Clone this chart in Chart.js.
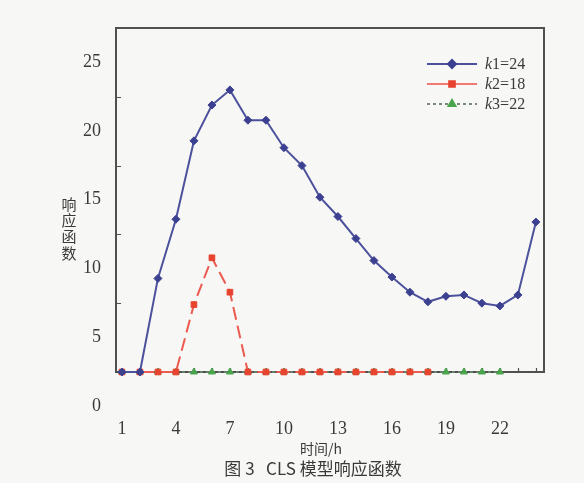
<!DOCTYPE html>
<html>
<head>
<meta charset="utf-8">
<script src="https://cdn.jsdelivr.net/npm/chart.js@4.4.1/dist/chart.umd.min.js"></script>
<style>
  html, body { margin: 0; padding: 0; background: #f7f7f5; }
  #wrap { width: 584px; height: 483px; }
</style>
</head>
<body>
<div id="wrap"><canvas id="chart" width="584" height="483"></canvas></div>
<script>
// hours on the x axis
const hours = [1, 2, 3, 4, 5, 6, 7, 8, 9, 10, 11, 12, 13, 14, 15, 16, 17, 18, 19, 20, 21, 22, 23, 24];
const xTickLabels = [1, 4, 7, 10, 13, 16, 19, 22];
const yTickLabels = [0, 5, 10, 15, 20, 25];

// response values
const k1Values = [0, 0, 6.8, 11.1, 16.8, 19.4, 20.5, 18.3, 18.3, 16.3, 15.0, 12.7, 11.3, 9.7, 8.1, 6.9, 5.8, 5.1, 5.5, 5.6, 5.0, 4.8, 5.6, 10.9];
const k2Values = [0, 0, 0, 0, 4.9, 8.3, 5.8, 0, 0, 0, 0, 0, 0, 0, 0, 0, 0, 0];
const k3Values = [0, 0, 0, 0, 0, 0, 0, 0, 0, 0, 0, 0, 0, 0, 0, 0, 0, 0, 0, 0, 0, 0];

const seriesNames = ['k1=24', 'k2=18', 'k3=22'];
const xTitle = '时间/h';
const yTitle = '响应函数';
const caption = '图 3   CLS 模型响应函数';

const SERIF = '"Liberation Serif", "DejaVu Serif", serif';
const CJK = '"Noto Sans CJK SC", sans-serif';
const TEXT = '#3a3a3a';

const styles = [
    { color: '#4c519c', point: '#3c4090', pointStyle: 'rectRot', radius: 4, dash: [], legendColor: '#4c519c', legendDash: [] },
    { color: '#ec5a50', point: '#e8432f', pointStyle: 'rect', radius: 4, dash: [13, 6], legendColor: '#f07a74', legendDash: [] },
    { color: '#66806a', point: '#4aa54c', pointStyle: 'triangle', radius: 4, dash: [3, 3], legendColor: '#7a8a7a', legendDash: [3, 3] }
];

function toPoints(values) {
    return values.map((v, i) => ({ x: hours[i], y: v }));
}

// box, inner ticks, axis titles, caption and legend
const decorPlugin = {
    id: 'decor',
    beforeDatasetsDraw(chart) {
        const { ctx, chartArea: a, scales } = chart;
        ctx.save();
        ctx.strokeStyle = '#505050';
        ctx.lineWidth = 2;
        ctx.strokeRect(a.left, a.top, a.right - a.left, a.bottom - a.top);
        ctx.lineWidth = 1.2;
        ctx.beginPath();
        [5, 10, 15, 20].forEach(v => {
            const y = Math.round(scales.y.getPixelForValue(v)) + 0.5;
            ctx.moveTo(a.left, y);
            ctx.lineTo(a.left + 5, y);
        });
        hours.forEach(h => {
            const x = Math.round(scales.x.getPixelForValue(h)) + 0.5;
            ctx.moveTo(x, a.bottom);
            ctx.lineTo(x, a.bottom - 4);
        });
        ctx.stroke();
        ctx.restore();
    },
    afterDraw(chart) {
        const { ctx } = chart;
        ctx.save();
        ctx.fillStyle = TEXT;
        ctx.textAlign = 'center';
        ctx.textBaseline = 'middle';

        // y title, one character per line
        ctx.font = '15px ' + CJK;
        Array.from(yTitle).forEach((ch, i) => {
            ctx.fillText(ch, 69, 204 + i * 16.3);
        });

        ctx.font = '14px ' + CJK;
        ctx.fillText(xTitle, 321, 449);

        ctx.font = '17px ' + CJK;
        ctx.fillText(caption, 313, 469);

        // legend
        const rows = [64, 84, 104];
        seriesNames.forEach((name, i) => {
            const s = styles[i];
            const y = rows[i];
            ctx.strokeStyle = s.legendColor;
            ctx.lineWidth = 2;
            ctx.setLineDash(s.legendDash);
            ctx.beginPath();
            ctx.moveTo(427, y);
            ctx.lineTo(477, y);
            ctx.stroke();
            ctx.setLineDash([]);
            ctx.fillStyle = s.point;
            ctx.strokeStyle = s.point;
            Chart.helpers.drawPoint(ctx, {
                pointStyle: s.pointStyle, radius: s.radius, borderWidth: 1
            }, 452, y);

            ctx.fillStyle = TEXT;
            ctx.textAlign = 'left';
            ctx.font = 'italic 16px ' + SERIF;
            ctx.fillText(name[0], 485, y + 1);
            const w = ctx.measureText(name[0]).width;
            ctx.font = '16px ' + SERIF;
            ctx.fillText(name.slice(1), 485 + w, y + 1);
        });
        ctx.restore();
    }
};

const datasets = [k1Values, k2Values, k3Values].map((vals, i) => ({
    label: seriesNames[i],
    data: toPoints(vals),
    borderColor: styles[i].color,
    borderWidth: 2,
    borderDash: styles[i].dash,
    backgroundColor: styles[i].point,
    pointBackgroundColor: styles[i].point,
    pointBorderColor: styles[i].point,
    pointStyle: styles[i].pointStyle,
    pointRadius: styles[i].radius,
    pointBorderWidth: 1,
    tension: 0,
    clip: false
}));

new Chart(document.getElementById('chart'), {
    type: 'line',
    data: { datasets },
    options: {
        responsive: false,
        animation: false,
        devicePixelRatio: 1,
        layout: { padding: { top: 28, right: 40, left: 0, bottom: 0 } },
        plugins: {
            legend: { display: false },
            tooltip: { enabled: false }
        },
        scales: {
            x: {
                type: 'linear',
                min: 0.67,
                max: 24.45,
                grid: { display: false },
                border: { display: false },
                afterFit: scale => { scale.height = 111; },
                ticks: {
                    stepSize: 1,
                    autoSkip: false,
                    includeBounds: false,
                    maxRotation: 0,
                    padding: 38,
                    color: TEXT,
                    font: { family: SERIF, size: 18 },
                    callback: v => xTickLabels.includes(v) ? String(v) : ''
                }
            },
            y: {
                min: 0,
                max: 25,
                grid: { display: false },
                border: { display: false },
                afterFit: scale => { scale.width = 116; },
                ticks: {
                    stepSize: 5,
                    padding: 7,
                    labelOffset: 34,
                    color: TEXT,
                    font: { family: SERIF, size: 18 },
                    callback: v => yTickLabels.includes(v) ? String(v) : ''
                }
            }
        }
    },
    plugins: [decorPlugin]
});
</script>
</body>
</html>
